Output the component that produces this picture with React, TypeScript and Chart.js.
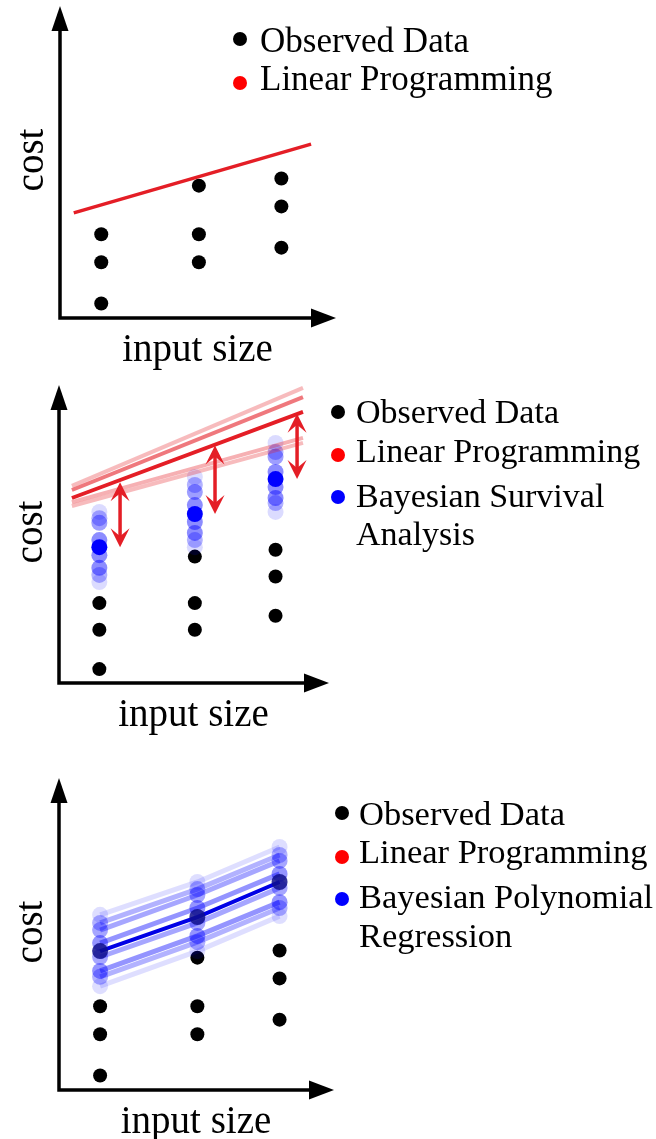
import { useEffect, useRef } from "react";
import { Chart, registerables } from "chart.js";

Chart.register(...registerables);

// Measured cost at three input sizes (three runs each), shared by all panels
const OBS_X = [1.5, 1.5, 1.5, 5.05, 5.05, 5.05, 8.05, 8.05, 8.05];
const OBS_Y = [2.7, 1.8, 0.47, 4.27, 2.7, 1.8, 4.5, 3.6, 2.27];

// Top panel: linear-programming upper bound
const LP_X = [0.5, 9.13];
const LP_Y = [3.39, 5.61];

// Middle panel: LP bound fitted to survival samples, plus alternative bounds
const FAN_X = [0.48, 9.07];
const FAN_MAIN = [6.25, 9.16];
const FAN_ALT_START = [6.66, 6.52, 6.11, 5.98];
const FAN_ALT_END = [9.97, 9.66, 8.28, 8.11];
const FAN_ALT_ALPHA = [0.3, 0.6, 0.35, 0.3];

// Middle panel: posterior samples of the survival model at each input size
const SIZES = [1.5, 5.05, 8.05];
const SURV_SMALL = [5.78, 5.57, 5.41, 4.83, 4.59, 4.32, 3.89, 3.65, 3.41];
const SURV_MEDIUM = [6.96, 6.69, 6.45, 6.01, 5.71, 5.44, 5.07, 4.83, 4.59];
const SURV_LARGE = [8.11, 7.8, 7.64, 7.13, 6.89, 6.62, 6.25, 6.08, 5.78];
const SURV_ALPHA = [0.14, 0.3, 0.38, 0.45, 1, 0.45, 0.45, 0.3, 0.14];

// Middle panel: gaps between the LP bound and the survival estimate
const GAP_X = [2.27, 5.8, 8.85];
const GAP_TOP = [6.78, 8.02, 9.1];
const GAP_BOTTOM = [4.59, 5.71, 6.89];

// Bottom panel: polynomial regression posterior draws (small, medium, large)
const POLY_SMALL = [5.65, 5.39, 5.16, 4.74, 4.48, 4.29, 3.84, 3.65, 3.35];
const POLY_MEDIUM = [6.71, 6.48, 6.29, 5.87, 5.58, 5.39, 4.97, 4.77, 4.48];
const POLY_LARGE = [7.84, 7.58, 7.39, 6.97, 6.71, 6.52, 6.06, 5.87, 5.61];
const POLY_ALPHA = [0.13, 0.3, 0.35, 0.42, 1, 0.35, 0.42, 0.3, 0.13];
const POLY_MAIN = 4;

const AXIS_X_TITLE = "input size";
const AXIS_Y_TITLE = "cost";

const RED = "#e41e26";
const redA = (a: number) => `rgba(228,30,38,${a})`;
const blueA = (a: number) => `rgba(0,0,255,${a})`;
const SERIF = "'Liberation Serif', 'Times New Roman', serif";

const observedDataset = () => ({
  type: "scatter" as const,
  data: OBS_X.map((x, i) => ({ x, y: OBS_Y[i] })),
  backgroundColor: "#000",
  pointRadius: 7,
  pointBorderWidth: 0,
  order: 5,
  clip: false as const,
});

const lineDataset = (xs: number[], ys: number[], color: string, width: number, order: number) => ({
  type: "line" as const,
  data: xs.map((x, i) => ({ x, y: ys[i] })),
  borderColor: color,
  borderWidth: width,
  pointRadius: 0,
  showLine: true,
  order,
  clip: false as const,
});

function drawStealth(ctx: CanvasRenderingContext2D, tx: number, ty: number, dir: number) {
  // dir = -1: pointing up, dir = +1: pointing down
  const L = 19;
  const W = 9.5;
  const N = 11;
  ctx.beginPath();
  ctx.moveTo(tx, ty);
  ctx.lineTo(tx - W, ty - dir * L);
  ctx.lineTo(tx, ty - dir * N);
  ctx.lineTo(tx + W, ty - dir * L);
  ctx.closePath();
  ctx.fill();
}

// Arrow-headed axes with serif titles
const arrowAxes = {
  id: "arrowAxes",
  beforeDatasetsDraw(chart: any) {
    const { ctx, chartArea } = chart;
    const { left, right, top, bottom } = chartArea;
    const headLen = 25;
    const headHalf = 8.5;
    const tipY = top - 2;
    const tipX = right + 1;
    ctx.save();
    ctx.strokeStyle = "#000";
    ctx.fillStyle = "#000";
    ctx.lineWidth = 3.5;
    ctx.beginPath();
    ctx.moveTo(left, bottom + 1.75);
    ctx.lineTo(left, tipY + headLen - 1);
    ctx.moveTo(left - 1.75, bottom);
    ctx.lineTo(tipX - headLen + 1, bottom);
    ctx.stroke();
    ctx.beginPath();
    ctx.moveTo(left, tipY);
    ctx.lineTo(left - headHalf, tipY + headLen);
    ctx.lineTo(left + headHalf, tipY + headLen);
    ctx.closePath();
    ctx.fill();
    ctx.beginPath();
    ctx.moveTo(tipX, bottom);
    ctx.lineTo(tipX - headLen, bottom - headHalf - 1);
    ctx.lineTo(tipX - headLen, bottom + headHalf + 1);
    ctx.closePath();
    ctx.fill();

    ctx.font = `39px ${SERIF}`;
    ctx.textAlign = "center";
    ctx.textBaseline = "alphabetic";
    ctx.fillText(AXIS_X_TITLE, (left + right) / 2, bottom + 43);
    ctx.translate(left - 17.5, (top + bottom) / 2 - 3);
    ctx.rotate(-Math.PI / 2);
    ctx.fillText(AXIS_Y_TITLE, 0, 0);
    ctx.restore();
  },
};

// Double-headed arrows marking the gap between bound and estimate
const gapArrows = {
  id: "gapArrows",
  afterDatasetsDraw(chart: any, _args: any, opts: any) {
    if (!opts || !opts.show) return;
    const { ctx, scales } = chart;
    ctx.save();
    ctx.strokeStyle = RED;
    ctx.fillStyle = RED;
    ctx.lineWidth = 3.5;
    GAP_X.forEach((gx, i) => {
      const px = scales.x.getPixelForValue(gx);
      const pt = scales.y.getPixelForValue(GAP_TOP[i]);
      const pb = scales.y.getPixelForValue(GAP_BOTTOM[i]);
      ctx.beginPath();
      ctx.moveTo(px, pt + 9);
      ctx.lineTo(px, pb - 9);
      ctx.stroke();
      drawStealth(ctx, px, pt, -1);
      drawStealth(ctx, px, pb, 1);
    });
    ctx.restore();
  },
};

type PanelProps = {
  top: number;
  width: number;
  height: number;
  padding: { left: number; top: number; right: number; bottom: number };
  datasets: any[];
  arrows?: boolean;
};

function Panel({ top, width, height, padding, datasets, arrows }: PanelProps) {
  const ref = useRef<HTMLCanvasElement | null>(null);
  useEffect(() => {
    if (!ref.current) return;
    const chart = new Chart(ref.current, {
      type: "scatter",
      data: { datasets },
      options: {
        responsive: false,
        animation: false,
        devicePixelRatio: 1,
        events: [],
        layout: { padding },
        plugins: {
          legend: { display: false },
          tooltip: { enabled: false },
          gapArrows: { show: !!arrows },
        } as any,
        scales: {
          x: { type: "linear", min: 0, max: 10, display: false },
          y: { type: "linear", min: 0, max: 10, display: false },
        },
      },
      plugins: [arrowAxes, gapArrows],
    });
    return () => chart.destroy();
  }, []);
  return (
    <canvas
      ref={ref}
      width={width}
      height={height}
      style={{ position: "absolute", left: 0, top, width, height }}
    />
  );
}

type LegendEntry = { color: string; lines: string[]; dotY: number; baselines: number[] };

function Legend({ dotX, textX, size, entries }: { dotX: number; textX: number; size: number; entries: LegendEntry[] }) {
  const lift = size * 0.8375;
  return (
    <>
      {entries.map((e, i) => (
        <div key={i}>
          <div
            style={{
              position: "absolute",
              left: dotX - 7,
              top: e.dotY - 7,
              width: 14,
              height: 14,
              borderRadius: "50%",
              background: e.color,
            }}
          />
          {e.lines.map((t, j) => (
            <div
              key={j}
              style={{
                position: "absolute",
                left: textX,
                top: e.baselines[j] - lift,
                fontFamily: SERIF,
                fontSize: size,
                lineHeight: `${size}px`,
                color: "#000",
                whiteSpace: "nowrap",
              }}
            >
              {t}
            </div>
          ))}
        </div>
      ))}
    </>
  );
}

const LABEL_OBS = "Observed Data";
const LABEL_LP = "Linear Programming";

export default function App() {
  const topSets = [observedDataset(), lineDataset(LP_X, LP_Y, RED, 3.5, 1)];

  const survSets = SURV_ALPHA.map((a, k) => ({
    type: "scatter" as const,
    data: SIZES.map((x, c) => ({ x, y: [SURV_SMALL, SURV_MEDIUM, SURV_LARGE][c][k] })),
    backgroundColor: blueA(a),
    pointRadius: 8,
    pointBorderWidth: 0,
    order: k === 4 ? 3 : 4,
    clip: false as const,
  }));
  const fanSets = FAN_ALT_START.map((s, k) =>
    lineDataset(FAN_X, [s, FAN_ALT_END[k]], redA(FAN_ALT_ALPHA[k]), 4, 2)
  );
  const midSets = [
    observedDataset(),
    ...survSets,
    ...fanSets,
    lineDataset(FAN_X, FAN_MAIN, RED, 3.8, 1),
  ];

  const polySets = POLY_ALPHA.map((a, k) => {
    const main = k === POLY_MAIN;
    return {
      type: "line" as const,
      data: SIZES.map((x, c) => ({ x, y: [POLY_SMALL, POLY_MEDIUM, POLY_LARGE][c][k] })),
      borderColor: main ? "#0000e6" : blueA(a),
      borderWidth: main ? 4 : 5,
      backgroundColor: main ? "rgba(15,15,140,0.85)" : blueA(a),
      pointRadius: 8,
      pointBorderWidth: 0,
      showLine: true,
      order: main ? 1 : 2,
      clip: false as const,
    };
  });
  const botSets = [observedDataset(), ...polySets];

  return (
    <div style={{ position: "absolute", left: 0, top: 0, width: 656, height: 1139, background: "#fff", overflow: "hidden" }}>
      <Panel top={0} width={345} height={372} padding={{ left: 60, top: 8, right: 10, bottom: 54 }} datasets={topSets} />
      <Panel top={370} width={340} height={372} padding={{ left: 59, top: 17, right: 12, bottom: 59 }} datasets={midSets} arrows />
      <Panel top={760} width={345} height={379} padding={{ left: 59, top: 20, right: 12, bottom: 49 }} datasets={botSets} />

      <Legend
        dotX={240}
        textX={260}
        size={35}
        entries={[
          { color: "#000", lines: [LABEL_OBS], dotY: 39, baselines: [52] },
          { color: "#ff0000", lines: [LABEL_LP], dotY: 83, baselines: [90] },
        ]}
      />
      <Legend
        dotX={338}
        textX={356}
        size={34}
        entries={[
          { color: "#000", lines: [LABEL_OBS], dotY: 412, baselines: [423] },
          { color: "#ff0000", lines: [LABEL_LP], dotY: 455, baselines: [462] },
          { color: "#0000ff", lines: ["Bayesian Survival", "Analysis"], dotY: 497, baselines: [507, 545] },
        ]}
      />
      <Legend
        dotX={342}
        textX={359}
        size={34.5}
        entries={[
          { color: "#000", lines: [LABEL_OBS], dotY: 813, baselines: [825] },
          { color: "#ff0000", lines: [LABEL_LP], dotY: 857, baselines: [863] },
          { color: "#0000ff", lines: ["Bayesian Polynomial", "Regression"], dotY: 899, baselines: [908, 947] },
        ]}
      />
    </div>
  );
}
